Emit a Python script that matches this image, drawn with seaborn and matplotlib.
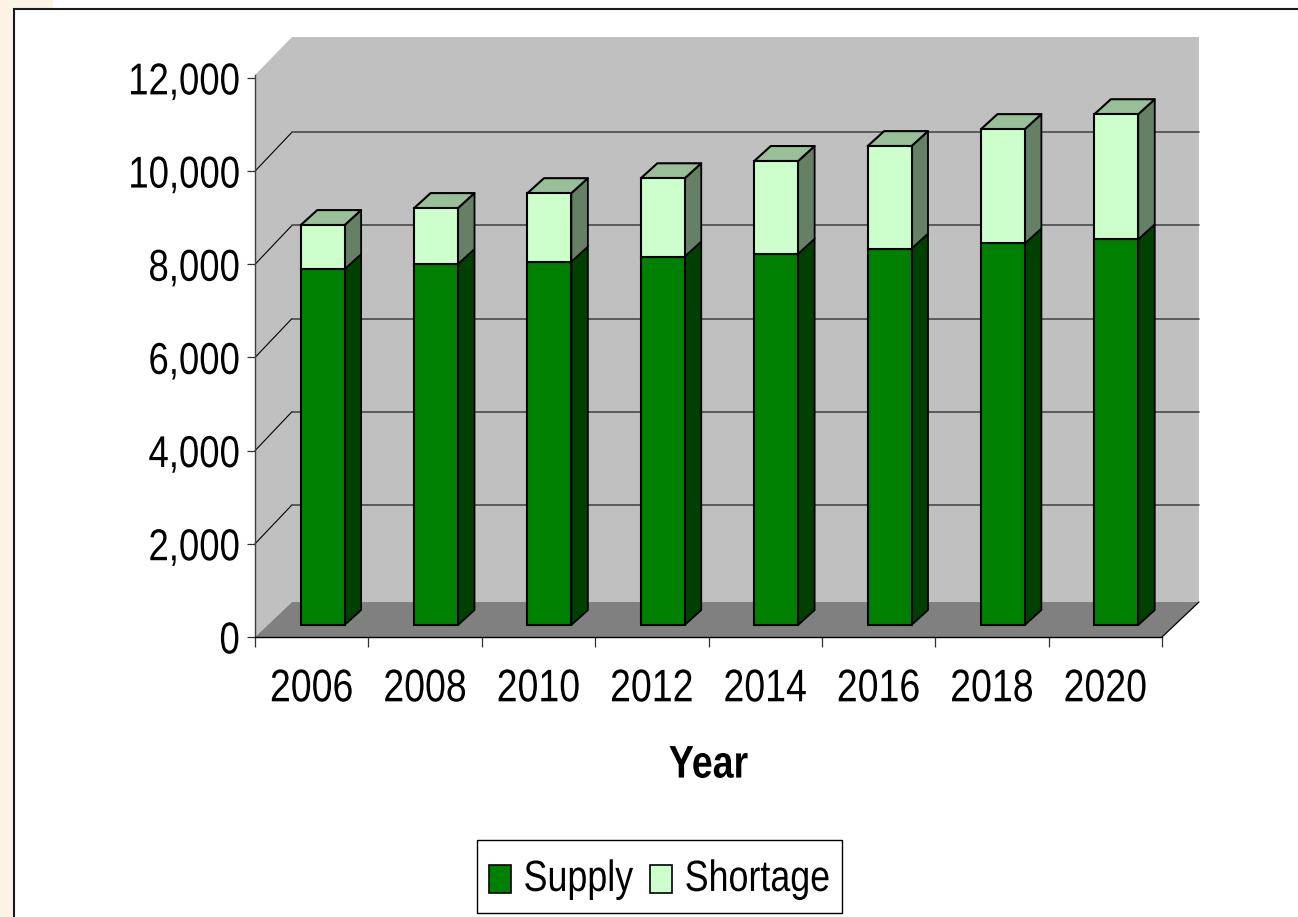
import numpy as np
import pandas as pd
import matplotlib
matplotlib.use("Agg")
import matplotlib.pyplot as plt
from matplotlib.legend_handler import HandlerPatch
from matplotlib.patches import Polygon, Rectangle, Patch
from matplotlib.patheffects import AbstractPathEffect
from matplotlib.transforms import Affine2D
import seaborn as sns

# ========= DATA =========
years = ["2006", "2008", "2010", "2012", "2014", "2016", "2018", "2020"]
supply = [7640, 7750, 7800, 7910, 7970, 8080, 8190, 8280]
shortage = [945, 1200, 1470, 1680, 1990, 2200, 2455, 2685]
y_ticks = [0, 2000, 4000, 6000, 8000, 10000, 12000]

# ========= STYLE =========
W, H = 1298, 917
FS = 25.8
BEIGE = "#FBF3E4"
SUPPLY_C = ["#008000", "#004000"]            # front, side
SHORT_C = ["#CCFFCC", "#668066", "#99BF99"]  # front, side, top

sns.set_style("white")
plt.rcParams["font.family"] = ["Liberation Sans"]
plt.rcParams["text.color"] = "black"
plt.rcParams["xtick.labelcolor"] = "black"
plt.rcParams["ytick.labelcolor"] = "black"
plt.rcParams["axes.labelcolor"] = "black"


# the chart uses a narrow face: small font stretched upwards around mid cap height
class Tall(AbstractPathEffect):
    def draw_path(self, renderer, gc, tpath, affine, rgbFace=None):
        stretch = Affine2D().translate(0, -36).scale(1, 1.22).translate(0, 36)
        renderer.draw_path(gc, tpath, stretch + affine, rgbFace)


tall = [Tall()]

fig = plt.figure(figsize=(W / 100, H / 100), dpi=100, facecolor="white")
fig.add_artist(Rectangle((0, 0), 14.5 / W, 1, transform=fig.transFigure,
                         facecolor=BEIGE, edgecolor="none", zorder=-3))
fig.add_artist(Rectangle((0, 1 - 8.5 / H), 53 / W, 8.5 / H, transform=fig.transFigure,
                         facecolor=BEIGE, edgecolor="none", zorder=-3))
fig.add_artist(Rectangle((14.5 / W, -0.02), 1, 1.02 - 8.5 / H, transform=fig.transFigure,
                         facecolor="white", edgecolor="#1A1A1A", linewidth=1.5, zorder=-1))

left, right, top, bottom = 255, 1162, 75, 637
ax = fig.add_axes([left / W, 1 - bottom / H, (right - left) / W, (bottom - top) / H])
ax.patch.set_alpha(0)

df = pd.DataFrame({"Year": years, "Supply": supply, "Shortage": shortage})
sns.barplot(data=df, x="Year", y="Supply", color=SUPPLY_C[0], saturation=1,
            width=0.387, edgecolor="black", linewidth=1.5, ax=ax, zorder=3)
sns.barplot(data=df, x="Year", y="Shortage", bottom=df["Supply"], color=SHORT_C[0], saturation=1,
            width=0.387, edgecolor="black", linewidth=1.5, ax=ax, zorder=3)

# pixel sizes in data units
px = 8 / (right - left)
py = 2000 / 93.2

ax.set_xlim(-0.5, 7.5)
ax.set_ylim(0, 12000 + 3 * py)

# ========= 3D BARS =========
bars = [b for b in ax.patches if isinstance(b, Rectangle)]
n = len(years)
dx, dy = 16.5 * px, 15 * py
for i, b in enumerate(bars[:2 * n]):
    b.set_x(b.get_x() + 11 * px)
    b.set_y(b.get_y() + 12 * py)
    b.set_clip_on(False)
    x, y, w, h = b.get_x(), b.get_y(), b.get_width(), b.get_height()
    is_short = i >= n
    side_c = SHORT_C[1] if is_short else SUPPLY_C[1]
    ax.add_patch(Polygon([(x + w, y), (x + w + dx, y + dy), (x + w + dx, y + h + dy), (x + w, y + h)],
                         facecolor=side_c, edgecolor="black", linewidth=1.3,
                         joinstyle="round", clip_on=False, zorder=2.5))
    if is_short:
        ax.add_patch(Polygon([(x, y + h), (x + dx, y + h + dy), (x + w + dx, y + h + dy), (x + w, y + h)],
                             facecolor=SHORT_C[2], edgecolor="black", linewidth=1.5,
                             joinstyle="round", clip_on=False, zorder=2.5))

# ========= 3D ROOM =========
wx, wy = 37 * px, 39 * py
x0, x1 = -0.5, 7.5
ytop = ax.get_ylim()[1]
back_top = y_ticks[-1] + 41 * py
floor_y = 35 * py
ax.add_patch(Polygon([(x0, 0), (x0 + wx, floor_y), (x0 + wx, back_top), (x0, ytop)],
                     facecolor="#C0C0C0", edgecolor="none", clip_on=False, zorder=0))
ax.add_patch(Polygon([(x0 + wx, floor_y), (x1 + wx, floor_y), (x1 + wx, back_top), (x0 + wx, back_top)],
                     facecolor="#C0C0C0", edgecolor="none", clip_on=False, zorder=0))
ax.add_patch(Polygon([(x0, 0), (x1, 0), (x1 + wx, floor_y), (x0 + wx, floor_y)],
                     facecolor="#808080", edgecolor="none", clip_on=False, zorder=0.5))
ax.plot([x1, x1 + wx], [0, floor_y], color="black", lw=0.9, clip_on=False, zorder=0.6)
for t in y_ticks[1:-1]:
    ax.plot([x0, x0 + wx], [t, t + wy], color="black", lw=0.8, clip_on=False, zorder=0.4)
    ax.plot([x0 + wx, x1 + wx], [t + wy, t + wy], color="#4A4A4A", lw=1.2, clip_on=False, zorder=0.4)

# ========= AXES =========
sns.despine(ax=ax, top=True, right=True)
ax.spines["left"].set(color="#404040", linewidth=1.0, zorder=1)
ax.spines["bottom"].set(color="black", linewidth=1.0, zorder=1)
ax.set_yticks(y_ticks)
ax.set_yticklabels([f"{t:,}" for t in y_ticks], fontsize=26.3)
ax.set_xticks(range(n))
ax.set_xticklabels(years, fontsize=27)
ax.set_xticks(np.arange(-0.5, n), minor=True)
ax.tick_params(axis="x", which="major", length=0, pad=24)
ax.tick_params(axis="x", which="minor", length=7.5, width=0.9, color="#303030", bottom=True)
ax.tick_params(axis="y", which="major", length=6, width=0.9, color="#303030", pad=5, left=True)
ax.set_ylabel("")
ax.set_xlabel("Year", fontsize=27, fontweight="bold", labelpad=29)
for lab in ax.get_xticklabels() + ax.get_yticklabels() + [ax.xaxis.label]:
    lab.set_path_effects(tall)


# ========= LEGEND =========
def swatch(legend, orig_handle, xdescent, ydescent, width, height, fontsize):
    return Rectangle((-xdescent, -0.14 * fontsize), width, 0.78 * fontsize)


handles = [Patch(facecolor=SUPPLY_C[0], edgecolor="black", linewidth=1.2, label="Supply"),
           Patch(facecolor=SHORT_C[0], edgecolor="black", linewidth=1.2, label="Shortage")]
leg = fig.legend(handles=handles, ncol=2, loc="center", bbox_to_anchor=(659.5 / W, 1 - 876.5 / H),
                 fontsize=FS, frameon=True, fancybox=False, edgecolor="black", framealpha=1,
                 handlelength=0.62, handleheight=1.73, handletextpad=0.35, columnspacing=0.47,
                 borderpad=0.33, borderaxespad=0,
                 handler_map={Patch: HandlerPatch(patch_func=swatch)})
leg.get_frame().set_linewidth(1.0)
for t in leg.get_texts():
    t.set_path_effects(tall)

fig.savefig("out.png", dpi=100, facecolor=fig.get_facecolor())
